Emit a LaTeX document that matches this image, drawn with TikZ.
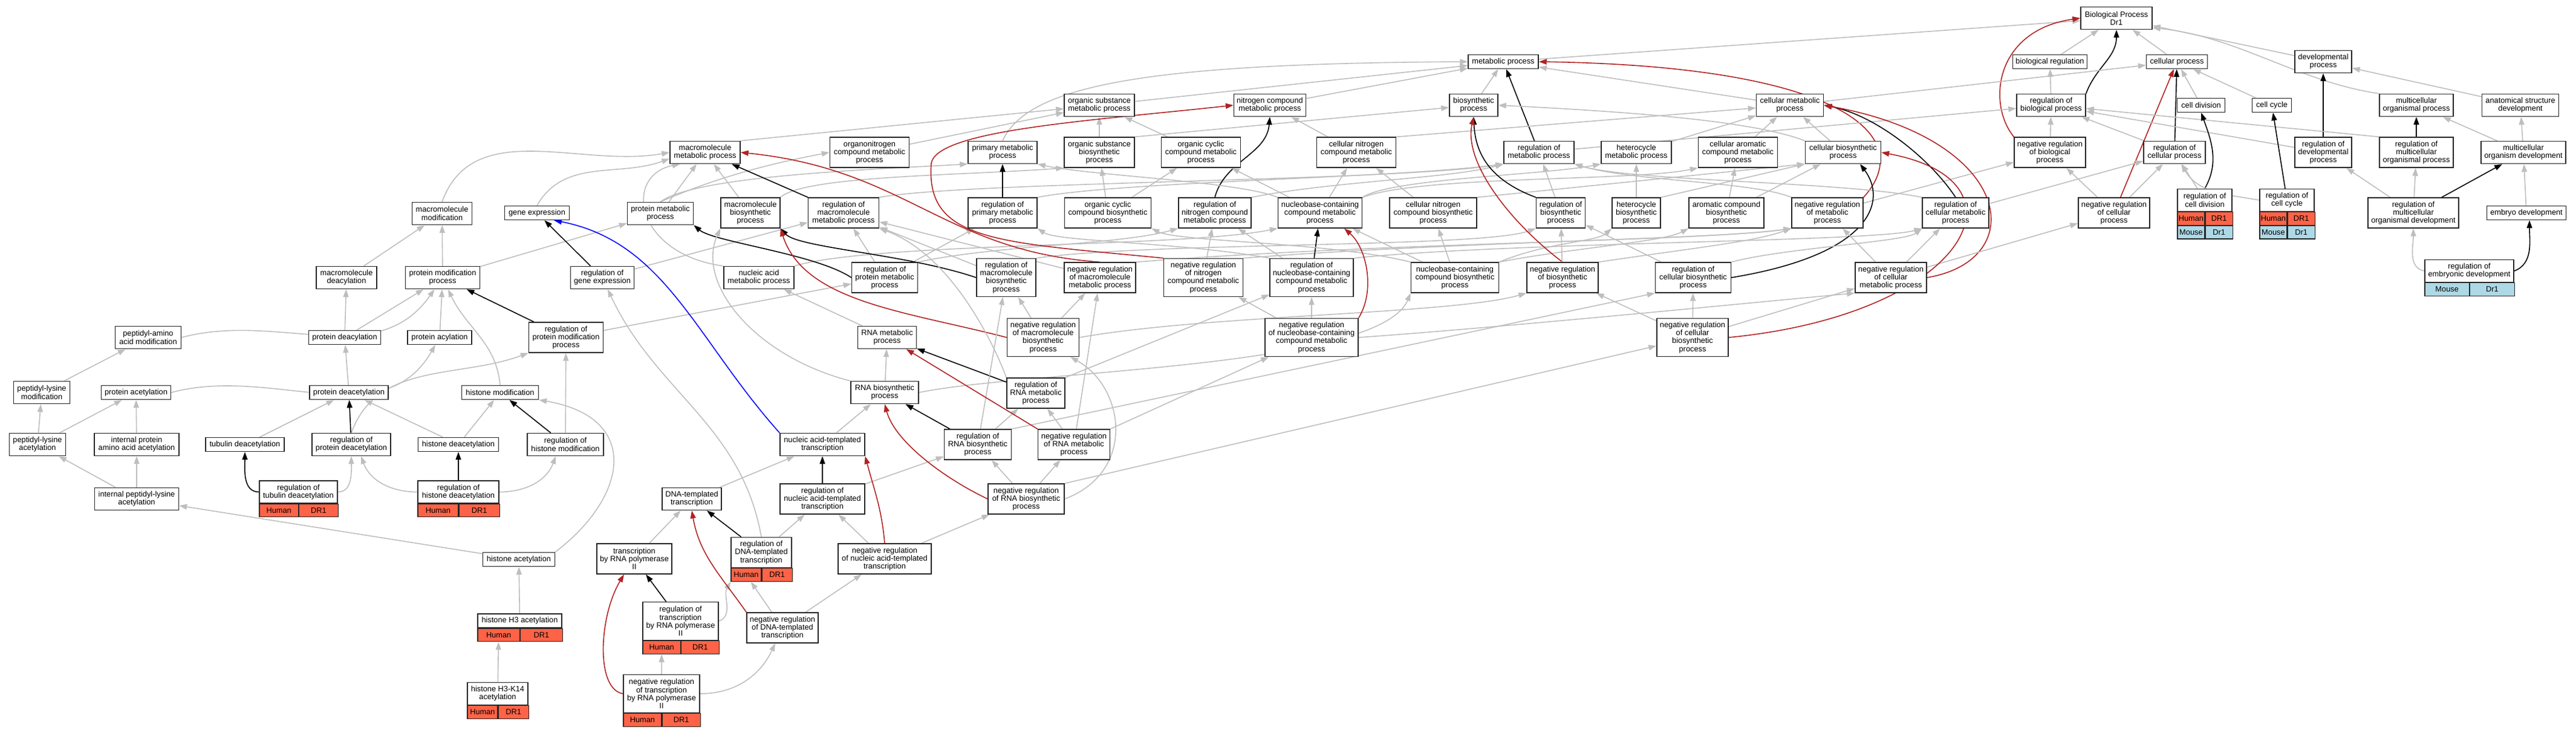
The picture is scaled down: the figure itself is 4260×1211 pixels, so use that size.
\documentclass[tikz,border=0pt]{standalone}
\usepackage{fontspec}
\setmainfont{Liberation Sans}
\usetikzlibrary{arrows.meta,positioning,backgrounds}
\definecolor{isagray}{HTML}{BEBEBE}
\definecolor{negred}{HTML}{B22222}
\definecolor{humanred}{HTML}{FF6347}
\definecolor{mouseblue}{HTML}{ADD8E6}

\begin{document}
\begin{tikzpicture}[x=1pt, y=-1pt,
  term/.style={rectangle, draw=black!85, line width=1.4pt, fill=white, align=center, inner sep=1pt, font=\fontsize{12.8}{13.2}\selectfont},
  oneline/.style={minimum height=23pt},
  twolines/.style={minimum height=37pt},
  threelines/.style={minimum height=50pt},
  fourlines/.style={minimum height=63pt},
  human/.style={rectangle, draw=black!85, line width=1.2pt, fill=humanred, minimum height=21.5pt, inner sep=0pt, font=\fontsize{12.8}{13.2}\selectfont},
  mouse/.style={human, fill=mouseblue},
  isa/.style={draw=isagray, line width=1.6pt, -{Triangle[length=13pt,width=9pt]}},
  reg/.style={isa, draw=black},
  negreg/.style={isa, draw=negred},
  partof/.style={isa, draw=blue}]
  \useasboundingbox (0,0) rectangle (4260,1211);

  \node[term, twolines, minimum width=118pt] (BP) at (3500,30) {Biological Process\\Dr1};
  \node[term, oneline, minimum width=116pt] (metp) at (2486,102) {metabolic process};
  \node[term, oneline, minimum width=123pt] (breg) at (3390,102) {biological regulation};
  \node[term, oneline, minimum width=101pt] (cellp) at (3600,102) {cellular process};
  \node[term, twolines, minimum width=94pt] (devp) at (3842,102) {developmental\\process};

  \node[term, twolines, minimum width=116pt] (orgsub) at (1818,174) {organic substance\\metabolic process};
  \node[term, twolines, minimum width=119pt] (nitro) at (2100,174) {nitrogen compound\\metabolic process};
  \node[term, twolines, minimum width=80pt] (biosyn) at (2437,174) {biosynthetic\\process};
  \node[term, twolines, minimum width=111pt] (cellmet) at (2960,174) {cellular metabolic\\process};
  \node[term, twolines, minimum width=114pt] (regbio) at (3392,174) {regulation of\\biological process};
  \node[term, oneline, minimum width=79pt] (celldiv) at (3640,174) {cell division};
  \node[term, oneline, minimum width=65pt] (cellcyc) at (3757,174) {cell cycle};
  \node[term, twolines, minimum width=122pt] (multi) at (3996,174) {multicellular\\organismal process};
  \node[term, twolines, minimum width=127pt] (anat) at (4168,174) {anatomical structure\\development};

  \node[term, twolines, minimum width=116pt] (macmet) at (1166,252) {macromolecule\\metabolic process};
  \node[term, threelines, minimum width=131pt] (orgnitro) at (1438,252) {organonitrogen\\compound metabolic\\process};
  \node[term, twolines, minimum width=114pt] (primmet) at (1658,252) {primary metabolic\\process};
  \node[term, threelines, minimum width=116pt] (orgsubbio) at (1818,252) {organic substance\\biosynthetic\\process};
  \node[term, threelines, minimum width=131pt] (orgcyc) at (1986,252) {organic cyclic\\compound metabolic\\process};
  \node[term, threelines, minimum width=131pt] (cellnitro) at (2243,252) {cellular nitrogen\\compound metabolic\\process};
  \node[term, twolines, minimum width=116pt] (regmet) at (2545,252) {regulation of\\metabolic process};
  \node[term, twolines, minimum width=116pt] (hetmet) at (2706,252) {heterocycle\\metabolic process};
  \node[term, threelines, minimum width=131pt] (cellarom) at (2874,252) {cellular aromatic\\compound metabolic\\process};
  \node[term, twolines, minimum width=125pt] (cellbio) at (3048,252) {cellular biosynthetic\\process};
  \node[term, threelines, minimum width=118pt] (negregbio) at (3390,252) {negative regulation\\of biological\\process};
  \node[term, twolines, minimum width=102pt] (regcellp) at (3596,252) {regulation of\\cellular process};
  \node[term, threelines, minimum width=94pt] (regdev) at (3842,252) {regulation of\\developmental\\process};
  \node[term, threelines, minimum width=122pt] (regmulti) at (3996,252) {regulation of\\multicellular\\organismal process};
  \node[term, twolines, minimum width=140pt] (multidev) at (4173,252) {multicellular\\organism development};

  \node[term, twolines, minimum width=99pt] (macmod) at (731,353) {macromolecule\\modification};
  \node[term, oneline, minimum width=107pt] (geneexp) at (888,352) {gene expression};
  \node[term, twolines, minimum width=109pt] (protmet) at (1092,353) {protein metabolic\\process};
  \node[term, threelines, minimum width=98pt] (macbio) at (1241,352) {macromolecule\\biosynthetic\\process};
  \node[term, threelines, minimum width=117pt] (regmacmet) at (1395,352) {regulation of\\macromolecule\\metabolic process};
  \node[term, threelines, minimum width=114pt] (regprimmet) at (1658,352) {regulation of\\primary metabolic\\process};
  \node[term, threelines, minimum width=143pt] (orgcycbio) at (1832,352) {organic cyclic\\compound biosynthetic\\process};
  \node[term, threelines, minimum width=120pt] (regnitro) at (2009,352) {regulation of\\nitrogen compound\\metabolic process};
  \node[term, threelines, minimum width=139pt] (nucmet) at (2183,352) {nucleobase-containing\\compound metabolic\\process};
  \node[term, threelines, minimum width=144pt] (cellnitrobio) at (2370,352) {cellular nitrogen\\compound biosynthetic\\process};
  \node[term, threelines, minimum width=81pt] (regbiosyn) at (2581,352) {regulation of\\biosynthetic\\process};
  \node[term, threelines, minimum width=80pt] (hetbio) at (2706,352) {heterocycle\\biosynthetic\\process};
  \node[term, threelines, minimum width=124pt] (arombio) at (2855,352) {aromatic compound\\biosynthetic\\process};
  \node[term, threelines, minimum width=118pt] (negregmet) at (3022,352) {negative regulation\\of metabolic\\process};
  \node[term, threelines, minimum width=110pt] (regcellmet) at (3234,352) {regulation of\\cellular metabolic\\process};
  \node[term, threelines, minimum width=118pt] (negregcellp) at (3496,352) {negative regulation\\of cellular\\process};
  \node[term, twolines, minimum width=90pt] (regcelldiv) at (3646,331) {regulation of\\cell division};
  \node[human, minimum width=45pt, anchor=north west] (regcelldivH) at (regcelldiv.south west) {Human};
  \node[human, minimum width=45pt, right=0pt of regcelldivH] (regcelldivD) {DR1};
  \node[mouse, minimum width=45pt, anchor=north west] (regcelldivM) at (regcelldivH.south west) {Mouse};
  \node[mouse, minimum width=45pt, right=0pt of regcelldivM] (regcelldivZ) {Dr1};
  \node[term, twolines, minimum width=90pt] (regcellcyc) at (3782,331) {regulation of\\cell cycle};
  \node[human, minimum width=45pt, anchor=north west] (regcellcycH) at (regcellcyc.south west) {Human};
  \node[human, minimum width=45pt, right=0pt of regcellcycH] (regcellcycD) {DR1};
  \node[mouse, minimum width=45pt, anchor=north west] (regcellcycM) at (regcellcycH.south west) {Mouse};
  \node[mouse, minimum width=45pt, right=0pt of regcellcycM] (regcellcycZ) {Dr1};
  \node[term, threelines, minimum width=150pt] (regmultidev) at (3991,352) {regulation of\\multicellular\\organismal development};
  \node[term, oneline, minimum width=131pt] (embryo) at (4178,352) {embryo development};

  \node[term, twolines, minimum width=100pt] (macdeac) at (573,459) {macromolecule\\deacylation};
  \node[term, twolines, minimum width=123pt] (protmod) at (732,459) {protein modification\\process};
  \node[term, twolines, minimum width=105pt] (reggene) at (996,459) {regulation of\\gene expression};
  \node[term, twolines, minimum width=116pt] (nucacid) at (1255,459) {nucleic acid\\metabolic process};
  \node[term, threelines, minimum width=109pt] (regprotmet) at (1463,459) {regulation of\\protein metabolic\\process};
  \node[term, fourlines, minimum width=98pt] (regmacbio) at (1664,459) {regulation of\\macromolecule\\biosynthetic\\process};
  \node[term, threelines, minimum width=118pt] (negregmacmet) at (1819,459) {negative regulation\\of macromolecule\\metabolic process};
  \node[term, fourlines, minimum width=131pt] (negregnitro) at (1990,459) {negative regulation\\of nitrogen\\compound metabolic\\process};
  \node[term, fourlines, minimum width=138pt] (regnucmet) at (2169,459) {regulation of\\nucleobase-containing\\compound metabolic\\process};
  \node[term, threelines, minimum width=145pt] (nucbio) at (2406,459) {nucleobase-containing\\compound biosynthetic\\process};
  \node[term, threelines, minimum width=118pt] (negregbiosyn) at (2584,459) {negative regulation\\of biosynthetic\\process};
  \node[term, threelines, minimum width=125pt] (regcellbio) at (2800,459) {regulation of\\cellular biosynthetic\\process};
  \node[term, threelines, minimum width=118pt] (negregcellmet) at (3127,459) {negative regulation\\of cellular\\metabolic process};
  \node[term, twolines, minimum width=147pt] (regembryo) at (4083.5,448) {regulation of\\embryonic development};
  \node[mouse, minimum width=73.5pt, anchor=north west] (regembryoM) at (regembryo.south west) {Mouse};
  \node[mouse, minimum width=73.5pt, right=0pt of regembryoM] (regembryoZ) {Dr1};

  \node[term, twolines, minimum width=109pt] (pepaa) at (245,558) {peptidyl-amino\\acid modification};
  \node[term, oneline, minimum width=119pt] (protdeacyl) at (570,558) {protein deacylation};
  \node[term, oneline, minimum width=106pt] (protacyl) at (727,558) {protein acylation};
  \node[term, threelines, minimum width=123pt] (regprotmod) at (936,558) {regulation of\\protein modification\\process};
  \node[term, twolines, minimum width=97pt] (rnamet) at (1467,558) {RNA metabolic\\process};
  \node[term, fourlines, minimum width=119pt] (negregmacbio) at (1725,558) {negative regulation\\of macromolecule\\biosynthetic\\process};
  \node[term, fourlines, minimum width=154pt] (negregnucmet) at (2169,558) {negative regulation\\of nucleobase-containing\\compound metabolic\\process};
  \node[term, fourlines, minimum width=118pt] (negregcellbio) at (2799,558) {negative regulation\\of cellular\\biosynthetic\\process};

  \node[term, twolines, minimum width=93pt] (peplysmod) at (69,649) {peptidyl-lysine\\modification};
  \node[term, oneline, minimum width=115pt] (protacet) at (225,649) {protein acetylation};
  \node[term, oneline, minimum width=130pt] (protdeacet) at (577,649) {protein deacetylation};
  \node[term, oneline, minimum width=127pt] (histmod) at (827,649) {histone modification};
  \node[term, twolines, minimum width=112pt] (rnabio) at (1463,649) {RNA biosynthetic\\process};
  \node[term, threelines, minimum width=96pt] (regrnamet) at (1713,650) {regulation of\\RNA metabolic\\process};

  \node[term, twolines, minimum width=93pt] (peplysacet) at (62,735) {peptidyl-lysine\\acetylation};
  \node[term, twolines, minimum width=140pt] (intprotacet) at (226,735) {internal protein\\amino acid acetylation};
  \node[term, oneline, minimum width=130pt] (tubdeacet) at (405,735) {tubulin deacetylation};
  \node[term, twolines, minimum width=130pt] (regprotdeacet) at (581,735) {regulation of\\protein deacetylation};
  \node[term, oneline, minimum width=133pt] (histdeacet) at (758,735) {histone deacetylation};
  \node[term, twolines, minimum width=126pt] (reghistmod) at (935,735) {regulation of\\histone modification};
  \node[term, twolines, minimum width=140pt] (nuctx) at (1360,735) {nucleic acid-templated\\transcription};
  \node[term, threelines, minimum width=111pt] (regrnabio) at (1617,735) {regulation of\\RNA biosynthetic\\process};
  \node[term, threelines, minimum width=119pt] (negregrnamet) at (1776,735) {negative regulation\\of RNA metabolic\\process};

  \node[term, twolines, minimum width=139pt] (intpeplys) at (226,825) {internal peptidyl-lysine\\acetylation};
  \node[term, twolines, minimum width=129pt] (regtubdeacet) at (493.5,813.5) {regulation of\\tubulin deacetylation};
  \node[human, minimum width=64.5pt, anchor=north west] (regtubdeacetH) at (regtubdeacet.south west) {Human};
  \node[human, minimum width=64.5pt, right=0pt of regtubdeacetH] (regtubdeacetD) {DR1};
  \node[term, twolines, minimum width=134pt] (reghistdeacet) at (758,813.5) {regulation of\\histone deacetylation};
  \node[human, minimum width=67pt, anchor=north west] (reghistdeacetH) at (reghistdeacet.south west) {Human};
  \node[human, minimum width=67pt, right=0pt of reghistdeacetH] (reghistdeacetD) {DR1};
  \node[term, twolines, minimum width=98pt] (dnatx) at (1144,825) {DNA-templated\\transcription};
  \node[term, threelines, minimum width=140pt] (regnuctx) at (1360,825) {regulation of\\nucleic acid-templated\\transcription};
  \node[term, threelines, minimum width=126pt] (negregrnabio) at (1697,825) {negative regulation\\of RNA biosynthetic\\process};

  \node[term, oneline, minimum width=119pt] (histacet) at (858,925) {histone acetylation};
  \node[term, threelines, minimum width=124pt] (txpol2) at (1049,924) {transcription\\by RNA polymerase\\II};
  \node[term, threelines, minimum width=100pt] (regdnatx) at (1259,913.5) {regulation of\\DNA-templated\\transcription};
  \node[human, minimum width=50pt, anchor=north west] (regdnatxH) at (regdnatx.south west) {Human};
  \node[human, minimum width=50pt, right=0pt of regdnatxH] (regdnatxD) {DR1};
  \node[term, threelines, minimum width=154pt] (negregnuctx) at (1463,924) {negative regulation\\of nucleic acid-templated\\transcription};

  \node[term, oneline, minimum width=139pt] (histh3) at (859.5,1026.5) {histone H3 acetylation};
  \node[human, minimum width=69.5pt, anchor=north west] (histh3H) at (histh3.south west) {Human};
  \node[human, minimum width=69.5pt, right=0pt of histh3H] (histh3D) {DR1};
  \node[term, fourlines, minimum width=125pt] (regtxpol2) at (1125.5,1027) {regulation of\\transcription\\by RNA polymerase\\II};
  \node[human, minimum width=62.5pt, anchor=north west] (regtxpol2H) at (regtxpol2.south west) {Human};
  \node[human, minimum width=62.5pt, right=0pt of regtxpol2H] (regtxpol2D) {DR1};
  \node[term, threelines, minimum width=118pt] (negregdnatx) at (1294,1038) {negative regulation\\of DNA-templated\\transcription};

  \node[term, twolines, minimum width=100pt] (histh3k14) at (823,1147) {histone H3-K14\\acetylation};
  \node[human, minimum width=50pt, anchor=north west] (histh3k14H) at (histh3k14.south west) {Human};
  \node[human, minimum width=50pt, right=0pt of histh3k14H] (histh3k14D) {DR1};
  \node[term, fourlines, minimum width=126pt] (negregtxpol2) at (1094,1147) {negative regulation\\of transcription\\by RNA polymerase\\II};
  \node[human, minimum width=63pt, anchor=north west] (negregtxpol2H) at (negregtxpol2.south west) {Human};
  \node[human, minimum width=63pt, right=0pt of negregtxpol2H] (negregtxpol2D) {DR1};

  \begin{pgfonlayer}{background}
  \draw[isa] (breg) -- (BP);
  \draw[isa] (cellp) -- (BP);
  \draw[isa] (devp) -- (BP);
  \draw[isa] (metp) -- (BP);
  \draw[isa] (multi.north west) .. controls (3800,135) and (3700,60) .. (BP.-15);
  \draw[reg] (regbio.north east) to[out=70,in=-90] (BP.south);
  \draw[negreg] (negregbio.north west) .. controls (3285,170) and (3300,50) .. (BP.west);
  \draw[isa] (regbio) -- (breg);
  \draw[isa] (negregbio) -- (regbio);

  \draw[isa] (celldiv) -- (cellp);
  \draw[isa] (cellcyc) -- (cellp);
  \draw[isa] (cellmet) -- (cellp);
  \draw[isa] (cellmet) -- (metp);
  \draw[isa] (anat) -- (devp);
  \draw[isa] (orgsub) -- (metp);
  \draw[isa] (nitro) -- (metp);
  \draw[isa] (biosyn) -- (metp);
  \draw[isa] (primmet.north) .. controls (1700,140) and (1900,105) .. (metp.west);
  \draw[reg] (regmet) -- (metp);
  \draw[negreg] (negregmet.north east) .. controls (3170,230) and (3060,110) .. (metp.east);
  \draw[isa] (regmet) -- (regbio);
  \draw[isa] (negregmet) -- (negregbio);
  \draw[isa] (negregmet.north west) .. controls (2900,300) and (2700,300) .. (regmet.south east);
  \draw[reg] (regcellp) -- (cellp);
  \draw[isa] (regcellp) -- (regbio);
  \draw[negreg] (negregcellp) -- (cellp);
  \draw[isa] (negregcellp) -- (negregbio);
  \draw[isa] (negregcellp) -- (regcellp);
  \draw[reg] (regdev) -- (devp);
  \draw[isa] (regdev) -- (regbio);
  \draw[reg] (regmulti) -- (multi);
  \draw[isa] (regmulti.north west) -- (regbio);
  \draw[isa] (multidev) -- (multi);
  \draw[isa] (multidev) -- (anat);
  \draw[reg] (regmultidev) -- (multidev);
  \draw[isa] (regmultidev) -- (regmulti);
  \draw[isa] (regmultidev) -- (regdev);
  \draw[isa] (embryo) -- (multidev);
  \draw[reg] (regembryo.east) to[out=20,in=-90] ([xshift=5pt]embryo.south);
  \draw[isa] (regembryo.west) to[out=170,in=-90] (regmultidev);
  \draw[reg] (regcelldiv.north) to[out=60,in=-70] (celldiv.south);
  \draw[isa] (regcelldiv) -- (regcellp);
  \draw[reg] (regcellcyc) -- (cellcyc);
  \draw[isa] (regcellcyc.west) to[out=170,in=-60] (regcellp);

  \draw[isa] (macmet.north east) -- (orgsub);
  \draw[isa] (orgnitro) -- (orgsub);
  \draw[isa] (orgsubbio) -- (orgsub);
  \draw[isa] (orgsubbio.north east) -- (biosyn);
  \draw[isa] (orgcyc) -- (orgsub);
  \draw[isa] (cellnitro) -- (nitro);
  \draw[isa] (cellnitro.north east) -- (cellmet);
  \draw[isa] (hetmet) -- (cellmet);
  \draw[isa] (cellarom) -- (cellmet);
  \draw[isa] (cellbio) -- (cellmet);
  \draw[isa] (cellbio.north west) .. controls (2900,200) and (2700,185) .. (biosyn.east);

  \draw[isa] (macmod.north) to[out=70,in=190] (macmet.west);
  \draw[isa] (geneexp.north) to[out=60,in=200] (macmet.190);
  \draw[isa] (protmet) -- (macmet);
  \draw[isa] (protmet.north) .. controls (1150,290) and (1450,280) .. (primmet.south west);
  \draw[isa] (protmet.north) .. controls (1170,300) and (1250,275) .. (orgnitro.west);
  \draw[isa] (macbio) -- (macmet);
  \draw[isa] (macbio.north east) .. controls (1330,290) and (1600,290) .. (orgsubbio.south west);
  \draw[reg] (regmacmet) -- (macmet);
  \draw[isa] (regmacmet.north east) .. controls (1600,300) and (2300,300) .. (regmet.south west);
  \draw[reg] (regprimmet) -- (primmet);
  \draw[isa] (regprimmet.north east) .. controls (1850,300) and (2300,295) .. (regmet.south west);
  \draw[isa] (orgcycbio) -- (orgsubbio);
  \draw[isa] (orgcycbio) -- (orgcyc);
  \draw[reg] (regnitro.north) to[out=75,in=-95] (nitro.south);
  \draw[isa] (regnitro.north east) .. controls (2200,300) and (2400,295) .. (regmet.south west);
  \draw[isa] (nucmet) -- (orgcyc);
  \draw[isa] (nucmet) -- (cellnitro);
  \draw[isa] (nucmet.north east) .. controls (2300,295) and (2550,290) .. (hetmet.south west);
  \draw[isa] (nucmet.north east) .. controls (2350,290) and (2700,300) .. (cellarom.south west);
  \draw[isa] (nucmet.north west) .. controls (2050,300) and (1800,290) .. (primmet.south east);
  \draw[isa] (cellnitrobio) -- (cellnitro);
  \draw[isa] (cellnitrobio.north east) -- (cellbio.south west);
  \draw[reg] (regbiosyn.north west) .. controls (2470,300) and (2440,260) .. (biosyn.south);
  \draw[isa] (regbiosyn) -- (regmet);
  \draw[isa] (hetbio) -- (hetmet);
  \draw[isa] (hetbio.north east) -- (cellbio.south west);
  \draw[isa] (arombio) -- (cellarom);
  \draw[isa] (arombio) -- (cellbio);
  \draw[reg] (regcellmet.north) .. controls (3190,260) and (3100,190) .. (cellmet.east);
  \draw[isa] (regcellmet.north west) .. controls (3050,300) and (2700,300) .. (regmet.south east);
  \draw[isa] (regcellmet) -- (regcellp);

  \draw[isa] (macdeac) -- (macmod);
  \draw[isa] (protmod) -- (macmod);
  \draw[isa] (protmod) -- (protmet);
  \draw[reg] (reggene) -- (geneexp);
  \draw[isa] (reggene) -- (regmacmet);
  \draw[isa] (nucacid.north west) .. controls (1050,420) and (1030,290) .. (macmet.205);
  \draw[isa] (nucacid.north east) .. controls (1450,400) and (1950,410) .. (nucmet.south west);
  \draw[reg] (regprotmet.west) .. controls (1350,420) and (1180,400) .. (protmet.south east);
  \draw[isa] (regprotmet) -- (regmacmet);
  \draw[isa] (regprotmet) -- (regprimmet);
  \draw[isa] (regprotmet.north east) .. controls (1650,405) and (1850,405) .. (regnitro.south west);
  \draw[reg] (regmacbio.west) .. controls (1500,420) and (1320,410) .. (macbio.south east);
  \draw[isa] (regmacbio) -- (regmacmet);
  \draw[isa] (regmacbio.north east) .. controls (1900,400) and (2450,410) .. (regbiosyn.south west);
  \draw[negreg] (negregmacmet.north) .. controls (1560,415) and (1500,280) .. (macmet.east);
  \draw[isa] (negregmacmet) -- (regmacmet);
  \draw[isa] (negregmacmet.north east) .. controls (2300,400) and (2800,400) .. (negregmet.south west);
  \draw[negreg] (negregnitro.north west) .. controls (1650,400) and (1530,400) .. (1540,270) .. controls (1550,215) and (1800,200) .. (nitro.west);
  \draw[isa] (negregnitro) -- (regnitro);
  \draw[isa] (negregnitro.north east) .. controls (2400,400) and (2850,395) .. (negregmet.south west);
  \draw[reg] (regnucmet) -- (nucmet);
  \draw[isa] (regnucmet.north west) .. controls (1950,400) and (1750,400) .. (regprimmet.south east);
  \draw[isa] (regnucmet) -- (regnitro);
  \draw[isa] (regnucmet.north east) .. controls (2500,400) and (3100,400) .. (regcellmet.south west);
  \draw[isa] (nucbio) -- (nucmet);
  \draw[isa] (nucbio) -- (cellnitrobio);
  \draw[isa] (nucbio.north west) .. controls (2200,400) and (1950,400) .. (orgcycbio.south east);
  \draw[isa] (nucbio.north east) .. controls (2560,400) and (2640,400) .. (hetbio.south west);
  \draw[isa] (nucbio.north east) .. controls (2600,410) and (2750,400) .. (arombio.south west);
  \draw[negreg] (negregbiosyn.north) .. controls (2500,370) and (2420,270) .. (biosyn.south);
  \draw[isa] (negregbiosyn) -- (regbiosyn);
  \draw[isa] (negregbiosyn.north east) .. controls (2800,410) and (2900,400) .. (negregmet.south west);
  \draw[reg] (regcellbio.east) .. controls (3100,420) and (3120,330) .. ([xshift=28pt]cellbio.south);
  \draw[isa] (regcellbio) -- (regbiosyn);
  \draw[isa] (regcellbio.north east) .. controls (2950,410) and (3150,400) .. (regcellmet.south west);
  \draw[negreg] (negregcellmet.east) .. controls (3360,430) and (3330,230) .. (cellmet.east);
  \draw[isa] (negregcellmet) -- (regcellmet);
  \draw[isa] (negregcellmet) -- (negregmet);
  \draw[isa] (negregcellmet) -- (negregcellp);

  \draw[isa] (pepaa.east) to[out=15,in=-125] (protmod);
  \draw[isa] (protdeacyl) -- (macdeac);
  \draw[isa] (protdeacyl) -- (protmod);
  \draw[isa] (protacyl) -- (protmod);
  \draw[reg] (regprotmod) -- (protmod);
  \draw[isa] (regprotmod) -- (regprotmet);
  \draw[isa] (rnamet) -- (nucacid);
  \draw[negreg] (negregmacbio.west) .. controls (1500,515) and (1330,500) .. (macbio.south east);
  \draw[isa] (negregmacbio) -- (regmacbio);
  \draw[isa] (negregmacbio) -- (negregmacmet);
  \draw[isa] (negregmacbio.east) .. controls (2000,520) and (2400,520) .. (negregbiosyn.south west);
  \draw[negreg] (negregnucmet.north east) .. controls (2275,480) and (2260,410) .. ([xshift=40pt]nucmet.south);
  \draw[isa] (negregnucmet) -- (regnucmet);
  \draw[isa] (negregnucmet) -- (negregnitro);
  \draw[isa] (negregnucmet.east) .. controls (2500,540) and (2900,500) .. (negregcellmet.south west);
  \draw[negreg] (negregcellbio.east) .. controls (3250,520) and (3370,300) .. (cellbio.east);
  \draw[isa] (negregcellbio) -- (regcellbio);
  \draw[isa] (negregcellbio) -- (negregbiosyn);
  \draw[isa] (negregcellbio) -- (negregcellmet);

  \draw[isa] (peplysmod) -- (pepaa);
  \draw[isa] (protacet.east) to[out=15,in=-120] (protacyl);
  \draw[isa] (protdeacet) -- (protdeacyl);
  \draw[isa] (histmod.north) to[out=95,in=-65] (protmod);
  \draw[isa] (rnabio) -- (rnamet);
  \draw[isa] (rnabio.east) .. controls (1700,612) and (2280,610) .. (nucbio.south west);
  \draw[isa] (rnabio.north west) .. controls (1250,590) and (1150,470) .. (macbio.south west);
  \draw[reg] (regrnamet) -- (rnamet);
  \draw[isa] (regrnamet.north east) -- (regnucmet);
  \draw[isa] (regrnamet.north west) .. controls (1640,560) and (1570,420) .. (regmacmet.south east);

  \draw[isa] (peplysacet) -- (peplysmod);
  \draw[isa] (peplysacet) -- (protacet);
  \draw[isa] (intprotacet) -- (protacet);
  \draw[isa] (tubdeacet) -- (protdeacet);
  \draw[reg] (regprotdeacet) -- (protdeacet);
  \draw[isa] (regprotdeacet.north) to[out=70,in=200] (regprotmod.south west);
  \draw[isa] (histdeacet) -- (protdeacet);
  \draw[isa] (histdeacet) -- (histmod);
  \draw[reg] (reghistmod) -- (histmod);
  \draw[isa] (reghistmod) -- (regprotmod);
  \draw[partof] (nuctx.north west) .. controls (1150,560) and (1100,400) .. ([xshift=28pt]geneexp.south);
  \draw[isa] (nuctx) -- (rnabio);
  \draw[reg] (regrnabio) -- (rnabio);
  \draw[isa] (regrnabio) -- (regrnamet);
  \draw[isa] (regrnabio) -- (regmacbio);
  \draw[isa] (regrnabio.north east) -- (regcellbio.south west);
  \draw[negreg] (negregrnamet.north west) -- (rnamet);
  \draw[isa] (negregrnamet) -- (regrnamet);
  \draw[isa] (negregrnamet.north east) -- (negregnucmet);
  \draw[isa] (negregrnamet) -- (negregmacmet);

  \draw[isa] (intpeplys) -- (peplysacet);
  \draw[isa] (intpeplys) -- (intprotacet);
  \draw[reg] (regtubdeacet.west) to[out=180,in=-90] (tubdeacet.south);
  \draw[isa] (regtubdeacet.east) to[out=0,in=-90] (regprotdeacet.south);
  \draw[reg] (reghistdeacet) -- (histdeacet);
  \draw[isa] (reghistdeacet.west) to[out=180,in=-70] ([xshift=16pt]regprotdeacet.south);
  \draw[isa] (reghistdeacet.east) to[out=0,in=-110] ([xshift=-16pt]reghistmod.south);
  \draw[isa] (dnatx) -- (nuctx);
  \draw[reg] (regnuctx) -- (nuctx);
  \draw[isa] (regnuctx) -- (regrnabio);
  \draw[negreg] (negregrnabio.west) .. controls (1560,790) and (1480,730) .. (rnabio.south);
  \draw[isa] (negregrnabio) -- (regrnabio);
  \draw[isa] (negregrnabio) -- (negregrnamet);
  \draw[isa] (negregrnabio.north east) -- (negregcellbio);
  \draw[isa] (negregrnabio.east) .. controls (1880,780) and (1860,640) .. ([xshift=45pt]negregmacbio.south);

  \draw[isa] (histacet) -- (intpeplys);
  \draw[isa] (histacet.north east) .. controls (1040,820) and (1060,690) .. (histmod.south east);
  \draw[isa] (txpol2) -- (dnatx);
  \draw[reg] (regdnatx) -- (dnatx);
  \draw[isa] (regdnatx) -- (regnuctx);
  \draw[isa] (regdnatx.north) to[out=100,in=-65] (reggene);
  \draw[negreg] (negregnuctx.north) to[out=95,in=-75] (nuctx.south east);
  \draw[isa] (negregnuctx) -- (regnuctx);
  \draw[isa] (negregnuctx) -- (negregrnabio);

  \draw[isa] (histh3) -- (histacet);
  \draw[reg] (regtxpol2) -- (txpol2);
  \draw[isa] (regtxpol2.east) to[out=20,in=-120] (regdnatxH.south west);
  \draw[negreg] (negregdnatx.north west) to[out=125,in=-80] (dnatx.south);
  \draw[isa] (negregdnatx) -- (regdnatxH);
  \draw[isa] (negregdnatx) -- (negregnuctx);

  \draw[isa] (histh3k14) -- (histh3H);
  \draw[negreg] (negregtxpol2.west) .. controls (985,1140) and (990,1020) .. ([xshift=-17pt]txpol2.south);
  \draw[isa] (negregtxpol2) -- (regtxpol2H);
  \draw[isa] (negregtxpol2.east) to[out=0,in=-115] (negregdnatx);
  \end{pgfonlayer}
\end{tikzpicture}
\end{document}
